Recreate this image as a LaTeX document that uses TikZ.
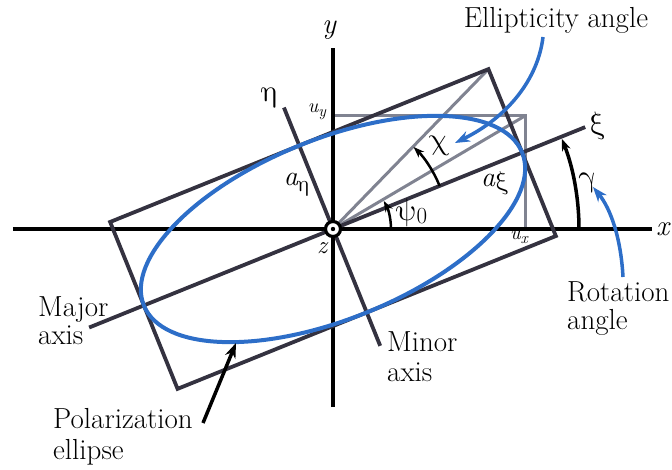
\documentclass[tikz,border=0pt]{standalone}
\usepackage{fontspec}
\usepackage{unicode-math}
\setmathfont{Latin Modern Math}
\usetikzlibrary{arrows.meta}
\definecolor{ellblue}{RGB}{45,110,200}
\definecolor{rectgray}{RGB}{52,50,64}
\definecolor{auxgray}{RGB}{128,131,145}
\begin{document}
\begin{tikzpicture}[x=1pt,y=1pt,
  lab/.style={font=\fontsize{29}{28}\selectfont, inner sep=0pt},
  axisline/.style={line width=3.5pt, black},
  rectline/.style={line width=3.8pt, rectgray, line join=miter},
  auxline/.style={line width=3pt, auxgray},
  ell/.style={line width=4pt, ellblue},
  anglearc/.style={line width=2.5pt, black, -{Stealth[length=11pt,width=8pt]}},
  bluearrow/.style={line width=3.5pt, ellblue, -{Stealth[length=15pt,width=11pt]}},
  blackarrow/.style={line width=3.5pt, black, -{Stealth[length=15pt,width=11pt]}},
]
\useasboundingbox (-333,-240) rectangle (339,229);
% coordinates
\coordinate (O) at (0,0);
\coordinate (xl) at (-320,0);
\coordinate (xr) at (319,0);
\coordinate (yb) at (0,-178);
\coordinate (yt) at (0,181);
\coordinate (xil) at (202:263);
\coordinate (xir) at (22:272);
\coordinate (etat) at (112:131);
\coordinate (etab) at (292:126);
\begin{scope}[rotate=22]
  \coordinate (R1) at (204,90);
  \coordinate (R2) at (-204,90);
  \coordinate (R3) at (-204,-90);
  \coordinate (R4) at (204,-90);
\end{scope}
\coordinate (uy) at (0,113.2);
\coordinate (uc) at (192.1,113.2);
\coordinate (ux) at (192.1,0);
% auxiliary gray lines
\draw[auxline] (uy) -- (uc) -- (ux);
\draw[auxline] (O) -- (R1);
\draw[auxline] (O) -- (uc);
% axes
\draw[axisline] (xl) -- (xr);
\draw[axisline] (yb) -- (yt);
\draw[rectline] (xil) -- (xir);
\draw[rectline] (etab) -- (etat);
% rectangle
\draw[rectline] (R1) -- (R2) -- (R3) -- (R4) -- cycle;
% ellipse
\draw[ell, rotate=22] (0,0) ellipse [x radius=204pt, y radius=90pt];
% angle arcs
\draw[anglearc] (58,0) arc[start angle=0, end angle=29, radius=58];
\draw[anglearc] (22:115) arc[start angle=22, end angle=45.5, radius=115];
\draw[line width=3.5pt, black, -{Stealth[length=12pt,width=9pt]}] (246,0) arc[start angle=0, end angle=21.5, radius=246];
% origin marker
\node[circle, draw, line width=3.2pt, fill=white, minimum size=15pt, inner sep=0pt] (Oc) at (O) {};
\fill (Oc.center) circle (2.2pt);
% labels
\node[lab, font=\fontsize{29}{29}\selectfont\itshape] (ylab) at (-4,199) {y};
\node[lab, font=\fontsize{29}{29}\selectfont\itshape, anchor=west] (xlab) at (323,0) {x};
\node[lab, font=\fontsize{31}{31}\selectfont] (etalab) at (-63,131) {$\upeta$};
\node[lab] (uylab) at (-16,117) {{\fontsize{20}{20}\selectfont\itshape u}\raisebox{-4pt}{\fontsize{16}{16}\selectfont\itshape y}};
\node[lab] (aetalab) at (-36,44) {{\fontsize{28}{28}\selectfont\itshape a}\raisebox{-6pt}{\fontsize{23}{23}\selectfont$\upeta$}};
\node[lab, font=\fontsize{25}{25}\selectfont\itshape] (zlab) at (-11,-19) {z};
\node[lab, font=\fontsize{31}{31}\selectfont] (psilab) at (79,16) {$\uppsi$\raisebox{-3pt}{\fontsize{23}{23}\selectfont 0}};
\node[lab, font=\fontsize{31}{31}\selectfont] (chilab) at (107,83) {$\upchi$};
\node[lab] (axilab) at (162,46) {{\fontsize{28}{28}\selectfont\itshape a}\raisebox{-3pt}{\fontsize{26}{26}\selectfont$\upxi$}};
\node[lab, font=\fontsize{31}{31}\selectfont] (xilab) at (265,103) {$\upxi$};
\node[lab, font=\fontsize{31}{31}\selectfont] (gammalab) at (255,46) {$\upgamma$};
\node[lab] (uxlab) at (186,-8) {{\fontsize{20}{20}\selectfont\itshape u}\raisebox{-4pt}{\fontsize{16}{16}\selectfont\itshape x}};
\node[lab] (ellip) at (223,209) {Ellipticity angle};
\node[lab, align=left, anchor=west] (rot) at (234,-80) {Rotation\\angle};
\node[lab, align=left, anchor=west] (major) at (-295,-92) {Major\\axis};
\node[lab, align=left, anchor=west, font=\fontsize{29}{30}\selectfont] (minor) at (54,-128) {Minor\\axis};
\node[lab, align=left, anchor=west, font=\fontsize{29}{31}\selectfont] (polar) at (-280,-208) {Polarization\\ellipse};
% pointer arrows
\coordinate (ea0) at (210,192);
\coordinate (ea1) at (122,86);
\draw[bluearrow] (ea0) .. controls (205,150) and (175,112) .. (ea1);
\coordinate (ra0) at (290,-48);
\coordinate (ra1) at (260,42);
\draw[bluearrow] (ra0) .. controls (288,-10) and (278,20) .. (ra1);
\coordinate (pa0) at (-130,-194);
\coordinate (pa1) at (-97,-114);
\draw[blackarrow] (pa0) -- (pa1);
\end{tikzpicture}
\end{document}
